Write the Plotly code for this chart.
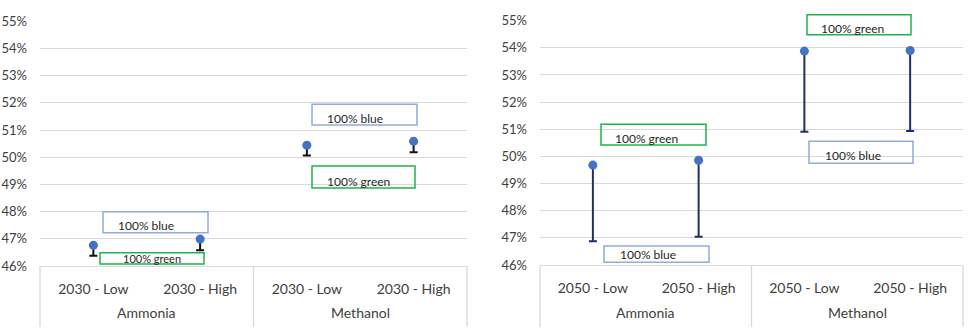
import plotly.graph_objects as go

W, H = 969, 333

# ---- data ----
groups = ["Ammonia", "Ammonia", "Methanol", "Methanol"]
group_names = ["Ammonia", "Methanol"]
cats_2030 = ["2030 - Low", "2030 - High", "2030 - Low", "2030 - High"]
cats_2050 = ["2050 - Low", "2050 - High", "2050 - Low", "2050 - High"]
high_2030 = [0.4676, 0.4699, 0.5044, 0.5059]   # 100% green (upper point)
low_2030 = [0.4638, 0.4658, 0.5006, 0.5018]    # 100% blue (lower end)
high_2050 = [0.4968, 0.4986, 0.5388, 0.5390]
low_2050 = [0.4688, 0.4704, 0.5091, 0.5094]
ytick_vals = [0.46, 0.47, 0.48, 0.49, 0.50, 0.51, 0.52, 0.53, 0.54, 0.55]

FONT = "Lato"
TXT = "#404040"
GRID = "#d9d9d9"
MARK = "#4472C4"
BLUE_BOX = "#8FAADC"
GREEN_BOX = "#22B14C"


def px(x):
    return x / W


def py(y):
    return 1 - y / H


fig = go.Figure()

panels = [
    ("x", "y", cats_2030, high_2030, low_2030, "#111111"),
    ("x2", "y2", cats_2050, high_2050, low_2050, "#1F2F6E"),
]
for xa, ya, cats, hi, lo, ecol in panels:
    keys = [f"{g}|{c}" for g, c in zip(groups, cats)]
    fig.add_trace(go.Scatter(
        x=keys, y=hi, xaxis=xa, yaxis=ya, mode="markers",
        marker=dict(color=MARK, size=9),
        error_y=dict(type="data", symmetric=False,
                     array=[0] * len(hi),
                     arrayminus=[h - l for h, l in zip(hi, lo)],
                     color=ecol, thickness=2, width=4),
        showlegend=False, hoverinfo="skip",
    ))
    ax = "xaxis" if xa == "x" else "xaxis2"
    fig.update_layout({ax: dict(tickvals=keys, ticktext=cats,
                                categoryorder="array", categoryarray=keys)})
    # group labels under the category labels
    for gi, gname in enumerate(group_names):
        fig.add_annotation(xref=f"{xa} domain", yref="paper",
                           x=(gi + 0.5) / len(group_names), y=py(320),
                           xanchor="center", yanchor="middle", text=gname,
                           showarrow=False,
                           font=dict(family=FONT, size=14, color=TXT))
    # vertical dividers of the category box
    for d in [0, 0.5, 1]:
        fig.add_shape(type="line", xref=f"{xa} domain", yref="paper",
                      x0=d, x1=d, y0=py(H + 2), y1=py(271),
                      line=dict(color=GRID, width=1.3))

xcommon = dict(type="category", range=[-0.5, 3.5], showgrid=False,
               showline=True, linecolor=GRID, linewidth=1.3, ticks="",
               ticklabelstandoff=10,
               tickfont=dict(family=FONT, size=14, color=TXT))
ycommon = dict(range=[0.46, 0.55], tickvals=ytick_vals, tickformat=".0%",
               showgrid=True, gridcolor=GRID, gridwidth=1.3, zeroline=False,
               showline=False, ticks="", ticklabelstandoff=12,
               tickfont=dict(family=FONT, size=13, color=TXT))

fig.update_layout(
    width=W, height=H, margin=dict(l=0, r=0, t=0, b=0),
    paper_bgcolor="white", plot_bgcolor="white",
    xaxis=dict(domain=[px(40), px(467)], anchor="y", **xcommon),
    yaxis=dict(domain=[py(271), py(14)], anchor="x", **ycommon),
    xaxis2=dict(domain=[px(540), px(963)], anchor="y2", **xcommon),
    yaxis2=dict(domain=[py(270), py(13.3)], anchor="x2", **ycommon),
)

# label boxes: (x0, y0, x1, y1, colour, text_x, text_y, fontsize)
boxes = [
    (312, 101, 417, 123, BLUE_BOX, 325, 116, 12, "100% blue"),
    (312, 166, 415, 189, GREEN_BOX, 325, 182, 12, "100% green"),
    (103, 214, 208, 236, BLUE_BOX, 116, 229, 12, "100% blue"),
    (100, 257, 204, 269, GREEN_BOX, 121, 263, 11, "100% green"),
    (807, 7, 911, 28, GREEN_BOX, 819, 22, 12, "100% green"),
    (601, 122, 706, 144, GREEN_BOX, 613, 137, 12, "100% green"),
    (809, 140, 913, 163, BLUE_BOX, 823, 155, 12, "100% blue"),
    (604, 250, 709, 267, BLUE_BOX, 618, 259, 12, "100% blue"),
]
for x0, y0, x1, y1, col, tx, ty, fs, label in boxes:
    fig.add_shape(type="rect", xref="paper", yref="paper",
                  x0=px(x0), x1=px(x1), y0=py(y1), y1=py(y0),
                  line=dict(color=col, width=1.5), fillcolor="rgba(0,0,0,0)")
    fig.add_annotation(xref="paper", yref="paper", x=px(tx), y=py(ty),
                       xanchor="left", yanchor="middle", text=label,
                       showarrow=False,
                       font=dict(family=FONT, size=fs, color="#262626"))

fig.write_html("out.html", config={"displayModeBar": False},
               post_script="document.body.style.margin='0';")
